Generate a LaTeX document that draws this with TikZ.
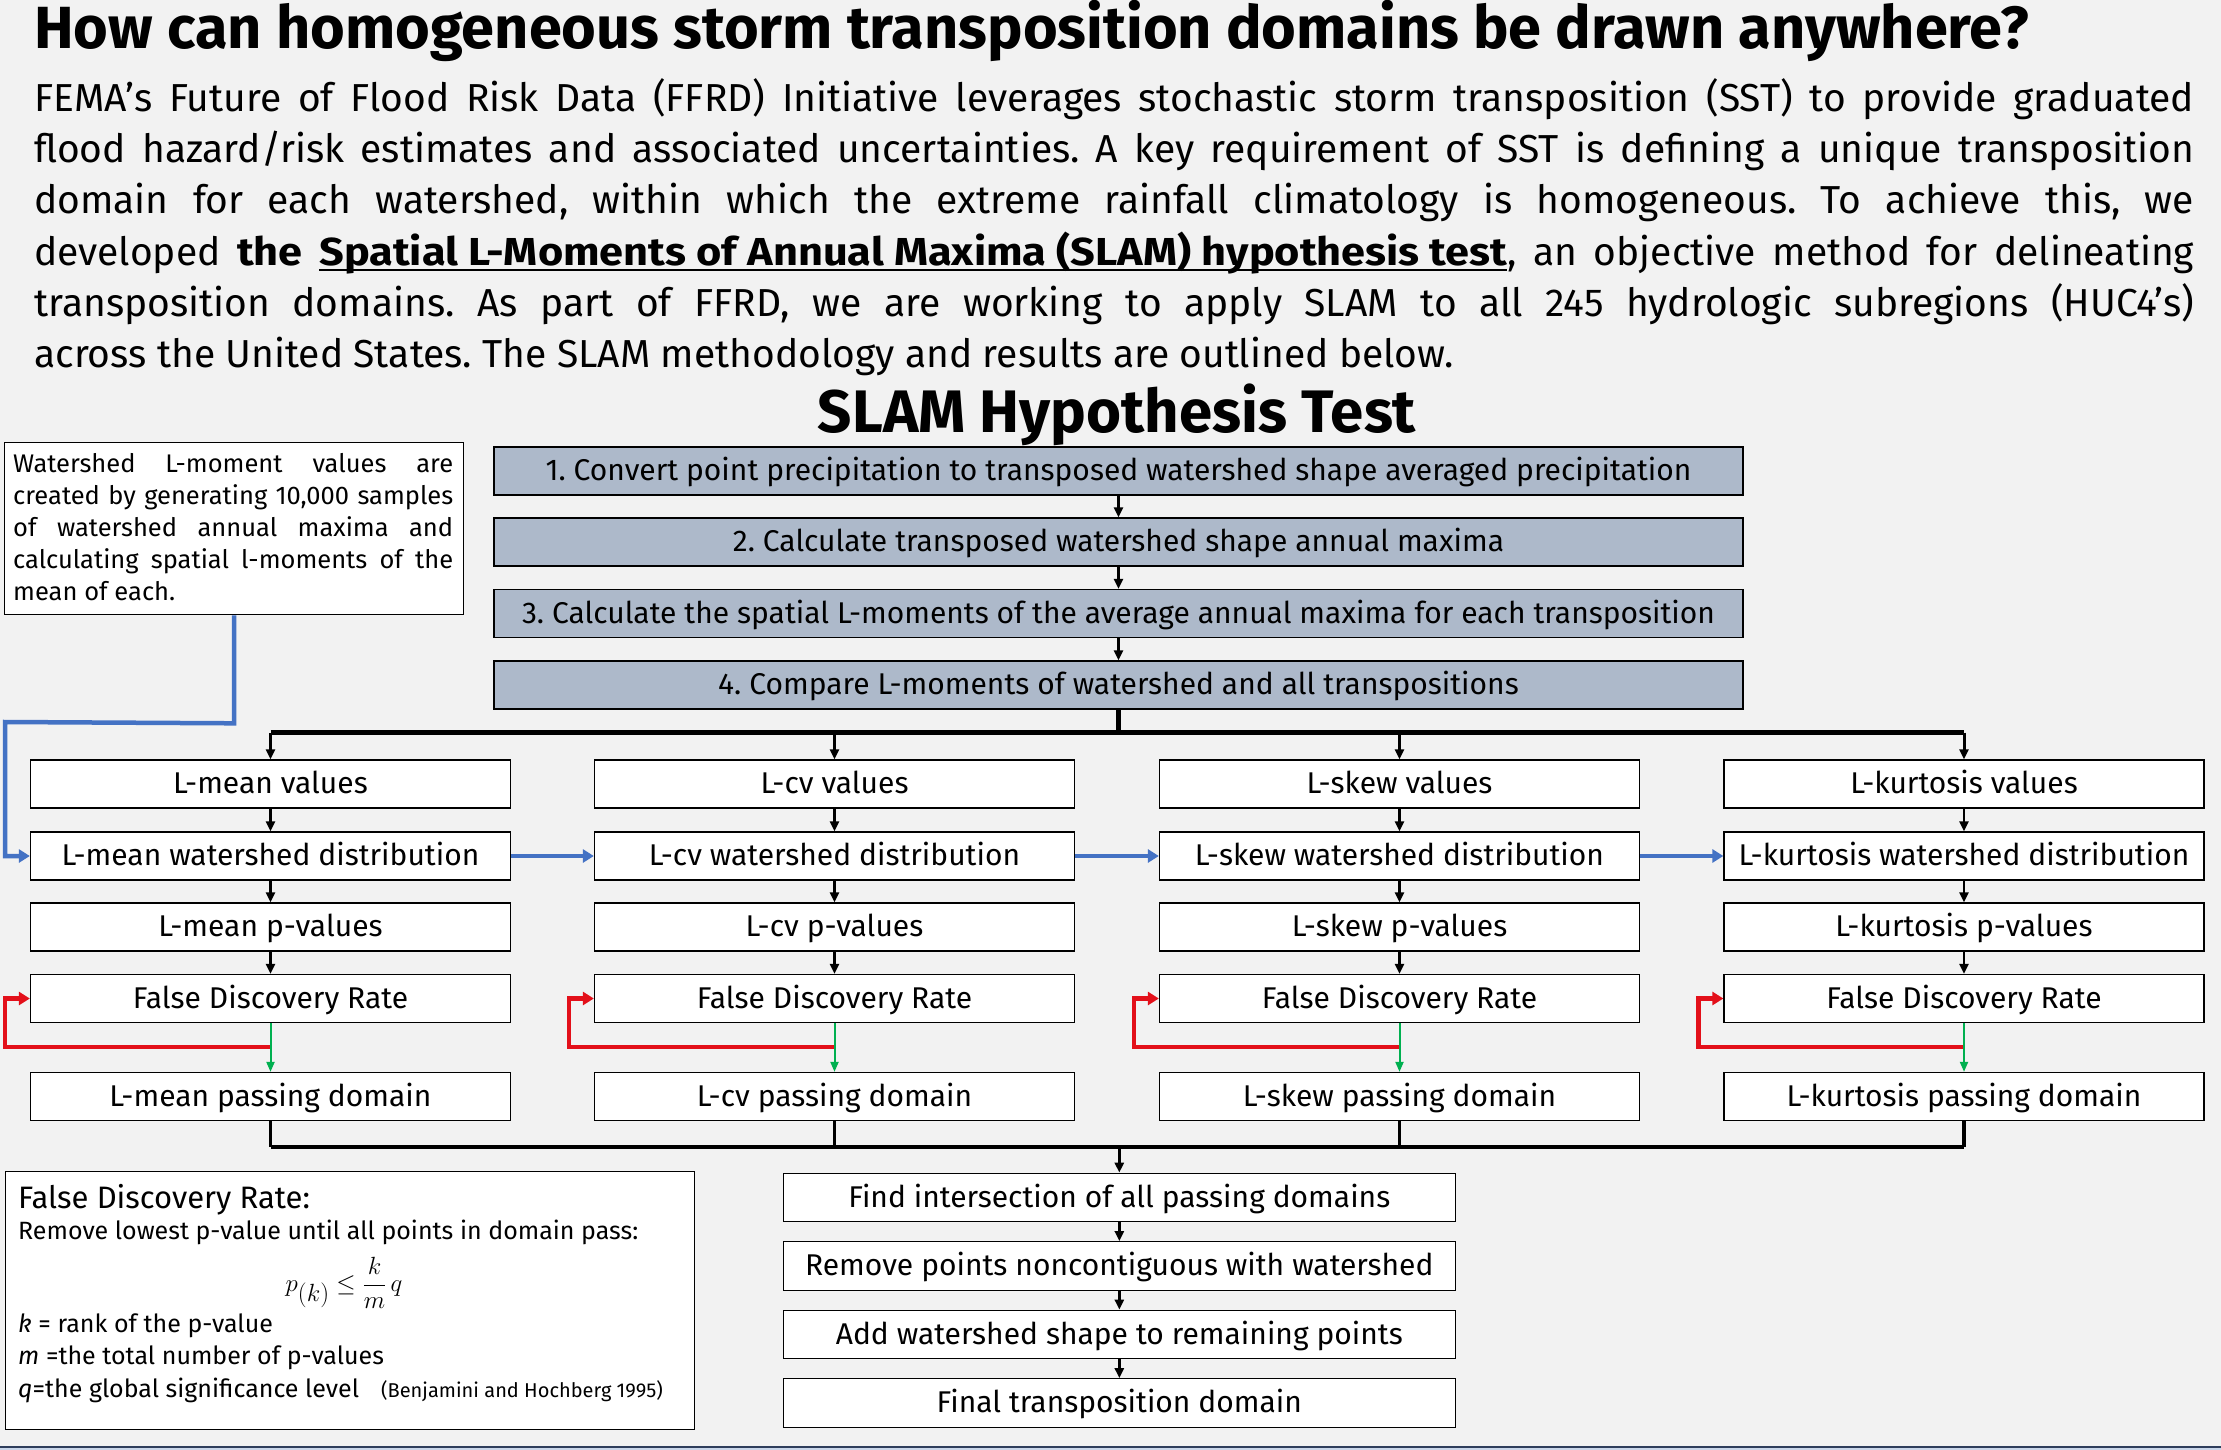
\documentclass[tikz,border=0pt]{standalone}
\usepackage{fontspec}
\setmainfont{Fira Sans}
\usetikzlibrary{arrows.meta,calc}
\definecolor{bg}{HTML}{F2F2F2}
\definecolor{stepfill}{HTML}{ADB9CA}
\definecolor{blueline}{HTML}{4472C4}
\definecolor{redline}{HTML}{E3101A}
\definecolor{greenline}{HTML}{00B050}
\definecolor{navy}{HTML}{2F3E5C}
\definecolor{lightblue}{HTML}{C9D6EA}
\newcommand{\fsz}[2]{\fontsize{#1pt}{#2pt}\selectfont}
\newcommand{\myul}[1]{\setbox0\hbox{#1}\rlap{\rule[-6pt]{\wd0}{2pt}}\box0}
\frenchspacing
\begin{document}
\begin{tikzpicture}[x=1pt,y=-1pt,
  boxtext/.style={font=\fsz{30}{34}, text height=23pt, text depth=4pt, inner sep=0pt},
  stepbox/.style={boxtext, draw=black, line width=1.3pt, fill=stepfill, minimum width=1249pt, minimum height=48pt},
  rowbox/.style={boxtext, draw=black, line width=1.3pt, fill=white, minimum width=480pt, minimum height=48pt},
  finbox/.style={boxtext, draw=black, line width=1.3pt, fill=white, minimum width=672pt, minimum height=48.5pt},
  notebox/.style={draw=black, line width=1.3pt, fill=white},
  blk/.style={draw=black, line width=2.4pt, -{Triangle[length=10pt,width=9pt]}},
  bus/.style={draw=black, line width=4.5pt},
  bluearr/.style={draw=blueline, line width=4.5pt, -{Triangle[length=11pt,width=13pt]}},
  redarr/.style={draw=redline, line width=4.5pt, -{Triangle[length=11pt,width=13pt]}},
  greenarr/.style={draw=greenline, line width=2pt, -{Triangle[length=10pt,width=8pt]}},
  plain/.style={inner sep=0pt, anchor=base west}
]
\useasboundingbox (0,0) rectangle (2221,1450);
\fill[bg] (0,0) rectangle (2221,1450);
\fill[lightblue] (0,1447) rectangle (2221,1450);
\draw[navy, line width=1.5pt] (0,1447) -- (2221,1447);

% Title
\node[plain, font=\bfseries\fsz{59.5}{64}] (title) at (34,49) {How can homogeneous storm transposition domains be drawn anywhere?};

% Paragraph
\begin{scope}[every node/.style={plain, font=\fsz{39}{51}}]
\node (p1) at (34,112) {\makebox[2160pt][s]{FEMA’s Future of Flood Risk Data (FFRD) Initiative leverages stochastic storm transposition (SST) to provide graduated}};
\node (p2) at (34,163) {\makebox[2160pt][s]{flood hazard/risk estimates and associated uncertainties. A key requirement of SST is defining a unique transposition}};
\node (p3) at (34,214) {\makebox[2160pt][s]{domain for each watershed, within which the extreme rainfall climatology is homogeneous. To achieve this, we}};
\node (p4) at (34,265) {\makebox[2160pt][s]{developed {\bfseries\addfontfeature{FakeStretch=1.11}the \myul{Spatial L-Moments of Annual Maxima (SLAM) hypothesis test}}, an objective method for delineating}};
\node (p5) at (34,316) {\makebox[2160pt][s]{transposition domains. As part of FFRD, we are working to apply SLAM to all 245 hydrologic subregions (HUC4’s)}};
\node (p6) at (34,367) {across the United States. The SLAM methodology and results are outlined below.};
\end{scope}

% Section title
\node[inner sep=0pt, anchor=base, font=\bfseries\fsz{60}{64}] (slam) at (1117,432) {SLAM Hypothesis Test};

% Steps
\node[stepbox] (s1) at (1118.5,471) {1. Convert point precipitation to transposed watershed shape averaged precipitation};
\node[stepbox] (s2) at (1118.5,542) {2. Calculate transposed watershed shape annual maxima};
\node[stepbox] (s3) at (1118.5,613.5) {3. Calculate the spatial L-moments of the average annual maxima for each transposition};
\node[stepbox] (s4) at (1118.5,685) {4. Compare L-moments of watershed and all transpositions};
\draw[blk] (s1) -- (s2);
\draw[blk] (s2) -- (s3);
\draw[blk] (s3) -- (s4);

% Note box
\node[notebox, anchor=north west, minimum width=459pt, minimum height=172pt, inner sep=0pt] (note) at (4,442) {};
\begin{scope}[every node/.style={plain, font=\fsz{25.5}{32}}]
\node (n1) at (13,472) {\makebox[440pt][s]{Watershed L-moment values are}};
\node (n2) at (13,504) {\makebox[440pt][s]{created by generating 10,000 samples}};
\node (n3) at (13,536) {\makebox[440pt][s]{of watershed annual maxima and}};
\node (n4) at (13,568) {\makebox[440pt][s]{calculating spatial l-moments of the}};
\node (n5) at (13,600) {mean of each.};
\end{scope}

% Columns
\foreach \c/\cx/\nm in {1/270.5/mean, 2/834.5/cv, 3/1399.5/skew, 4/1964/kurtosis}{
  \node[rowbox] (r\c a) at (\cx,784) {L-\nm\ values};
  \node[rowbox] (r\c b) at (\cx,856) {L-\nm\ watershed distribution};
  \node[rowbox] (r\c c) at (\cx,927) {L-\nm\ p-values};
  \node[rowbox] (r\c d) at (\cx,998.5) {False Discovery Rate};
  \node[rowbox] (r\c e) at (\cx,1096.5) {L-\nm\ passing domain};
  \draw[blk] (r\c a) -- (r\c b);
  \draw[blk] (r\c b) -- (r\c c);
  \draw[blk] (r\c c) -- (r\c d);
  \coordinate (rl\c) at ($(r\c d.south)+(0,24)$);
  \coordinate (rc\c) at ($(r\c d.south west)+(-25,24)$);
  \draw[redarr] (rl\c) -- (rc\c) |- (r\c d.west);
  \draw[greenarr] (r\c d) -- (r\c e);
}

% Top bus
\coordinate (tb) at ($(s4.south)+(0,23)$);
\draw[bus] (s4.south) -- (tb);
\draw[bus] (r1a.north |- tb) -- (r4a.north |- tb);
\foreach \c in {1,2,3,4}{
  \draw[blk, line width=3pt] (r\c a.north |- tb) -- (r\c a.north);
}

% Blue connectors
\coordinate (bl1) at ($(note.south)+(0,108)$);
\coordinate (bl2) at (5,722);
\draw[bluearr] (note.south) -- (bl1) -- (bl2) |- (r1b.west);
\draw[bluearr] (r1b) -- (r2b);
\draw[bluearr] (r2b) -- (r3b);
\draw[bluearr] (r3b) -- (r4b);

% Bottom flow
\node[finbox] (f1) at (1119.3,1197.5) {Find intersection of all passing domains};
\node[finbox] (f2) at (1119.3,1266) {Remove points noncontiguous with watershed};
\node[finbox] (f3) at (1119.3,1334.5) {Add watershed shape to remaining points};
\node[finbox] (f4) at (1119.3,1403) {Final transposition domain};
\draw[blk] (f1) -- (f2);
\draw[blk] (f2) -- (f3);
\draw[blk] (f3) -- (f4);

\coordinate (bb) at ($(r1e.south)+(0,26)$);
\foreach \c in {1,2,3,4}{
  \draw[draw=black, line width=3.5pt] (r\c e.south) -- (r\c e.south |- bb);
}
\draw[draw=black, line width=4.5pt] (r1e.south |- bb) -- (r4e.south |- bb);
\draw[blk, line width=3pt] (f1.north |- bb) -- (f1.north);

% FDR note
\node[notebox, anchor=north west, minimum width=689pt, minimum height=258pt, inner sep=0pt] (fdr) at (5,1171) {};
\begin{scope}[every node/.style={plain, font=\fsz{25}{32}}]
\node[font=\fsz{31}{34}] (d1) at (18,1208) {False Discovery Rate:};
\node (d2) at (18,1239) {Remove lowest p-value until all points in domain pass:};
\node[anchor=center, font=\fsz{36}{40}] (d3) at (344,1283) {$p_{(k)} \leq \displaystyle\frac{k}{m}\,q$};
\node (d4) at (18,1332) {\textit{k} = rank of the p-value};
\node (d5) at (18,1364) {\textit{m} =the total number of p-values};
\node (d6) at (18,1397) {\textit{q}=the global significance level};
\node[font=\fsz{20}{24}] (d7) at (381,1397) {(Benjamini and Hochberg 1995)};
\end{scope}
\end{tikzpicture}
\end{document}
